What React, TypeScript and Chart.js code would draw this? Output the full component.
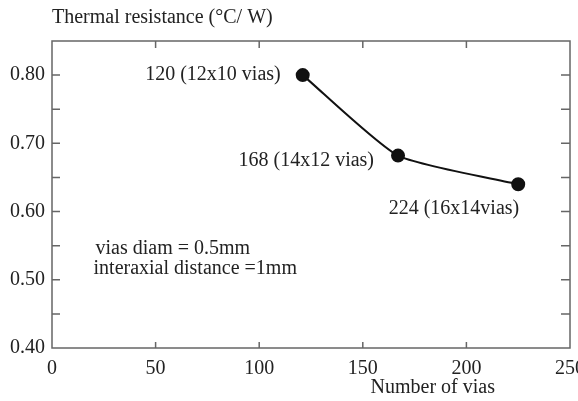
import { useEffect, useRef } from 'react';
import { Chart, registerables } from 'chart.js';

Chart.register(...registerables);

// ---- data ----
const xValues = [121, 167, 225];
const yValues = [0.8, 0.682, 0.64];
const pointLabels = ['120 (12x10 vias)', '168 (14x12 vias)', '224 (16x14vias)'];
const xTicks = [0, 50, 100, 150, 200, 250];
const yTicks = [0.4, 0.5, 0.6, 0.7, 0.8];
const yMinorTicks = [0.45, 0.55, 0.65, 0.75, 0.85];
const noteLines = ['vias diam = 0.5mm', 'interaxial distance =1mm'];
const noteAnchor = { x: 21, y: 0.545 };
const yTitle = 'Thermal resistance (°C/ W)';
const xTitle = 'Number of vias';

const FONT = "'Liberation Serif', 'DejaVu Serif', serif";
const FS = 20;
const TEXT = '#222';
const AXIS = '#666';

const labelOffsets = [
  { dx: -22, dy: 0, align: 'right' },
  { dx: -24, dy: 5, align: 'right' },
  { dx: 1, dy: 24, align: 'right' },
];

const framePlugin = {
  id: 'frame',
  afterDraw(chart: any) {
    const { ctx, chartArea: a, scales } = chart;
    const xs = scales.x;
    const ys = scales.y;
    ctx.save();
    ctx.strokeStyle = AXIS;
    ctx.lineWidth = 1.5;
    ctx.strokeRect(a.left, a.top, a.right - a.left, a.bottom - a.top);
    ctx.beginPath();
    xTicks.forEach((v) => {
      const px = xs.getPixelForValue(v);
      if (px <= a.left + 1 || px >= a.right - 1) return;
      ctx.moveTo(px, a.bottom);
      ctx.lineTo(px, a.bottom - 6);
      ctx.moveTo(px, a.top);
      ctx.lineTo(px, a.top + 7);
    });
    [...yTicks, ...yMinorTicks].forEach((v) => {
      const py = ys.getPixelForValue(v);
      if (py <= a.top + 1 || py >= a.bottom - 1) return;
      ctx.moveTo(a.left, py);
      ctx.lineTo(a.left + 8, py);
      ctx.moveTo(a.right, py);
      ctx.lineTo(a.right - 9, py);
    });
    ctx.stroke();

    ctx.fillStyle = TEXT;
    ctx.font = `${FS}px ${FONT}`;
    ctx.textBaseline = 'middle';
    // point labels
    pointLabels.forEach((t, i) => {
      const o = labelOffsets[i];
      ctx.textAlign = o.align as CanvasTextAlign;
      ctx.fillText(t, xs.getPixelForValue(xValues[i]) + o.dx, ys.getPixelForValue(yValues[i]) + o.dy);
    });
    // notes
    ctx.textAlign = 'left';
    const nx = xs.getPixelForValue(noteAnchor.x);
    const ny = ys.getPixelForValue(noteAnchor.y);
    noteLines.forEach((t, i) => {
      ctx.fillText(t, nx - (i === 1 ? 2 : 0), ny + i * 20);
    });
    // axis titles
    ctx.textAlign = 'left';
    ctx.fillText(yTitle, a.left, a.top - 23);
    ctx.textAlign = 'center';
    ctx.fillText(xTitle, a.left + (a.right - a.left) * 0.735, a.bottom + 40);
    ctx.restore();
  },
};

export default function App() {
  const ref = useRef<HTMLCanvasElement>(null);
  useEffect(() => {
    document.body.style.margin = '0';
    const chart = new Chart(ref.current!, {
      type: 'scatter',
      data: {
        datasets: [
          {
            data: xValues.map((x, i) => ({ x, y: yValues[i] })),
            showLine: true,
            borderColor: '#111',
            backgroundColor: '#111',
            borderWidth: 2,
            pointRadius: 6,
            pointHoverRadius: 6,
            tension: 0.18,
          },
        ],
      },
      options: {
        animation: false,
        responsive: false,
        layout: { padding: { top: 41, right: 8, left: 0, bottom: 0 } },
        plugins: { legend: { display: false }, tooltip: { enabled: false } },
        scales: {
          x: {
            type: 'linear',
            min: 0,
            max: 250,
            afterBuildTicks: (s: any) => {
              s.ticks = xTicks.map((v) => ({ value: v }));
            },
            afterFit: (s: any) => {
              s.height = 53;
              s.paddingLeft = 0;
              s.paddingRight = 0;
            },
            ticks: {
              color: TEXT,
              font: { family: FONT, size: FS },
              padding: 9,
              maxRotation: 0,
            },
            grid: { display: false, drawTicks: false },
            border: { display: false },
          },
          y: {
            type: 'linear',
            min: 0.4,
            max: 0.85,
            afterBuildTicks: (s: any) => {
              s.ticks = yTicks.map((v) => ({ value: v }));
            },
            afterFit: (s: any) => {
              s.width = 52;
              s.paddingTop = 0;
              s.paddingBottom = 0;
            },
            ticks: {
              color: TEXT,
              font: { family: FONT, size: FS },
              padding: 7,
              callback: (v: any) => Number(v).toFixed(2),
            },
            grid: { display: false, drawTicks: false },
            border: { display: false },
          },
        },
      },
      plugins: [framePlugin],
    });
    return () => chart.destroy();
  }, []);
  return <canvas ref={ref} width={578} height={401} style={{ display: 'block' }} />;
}
